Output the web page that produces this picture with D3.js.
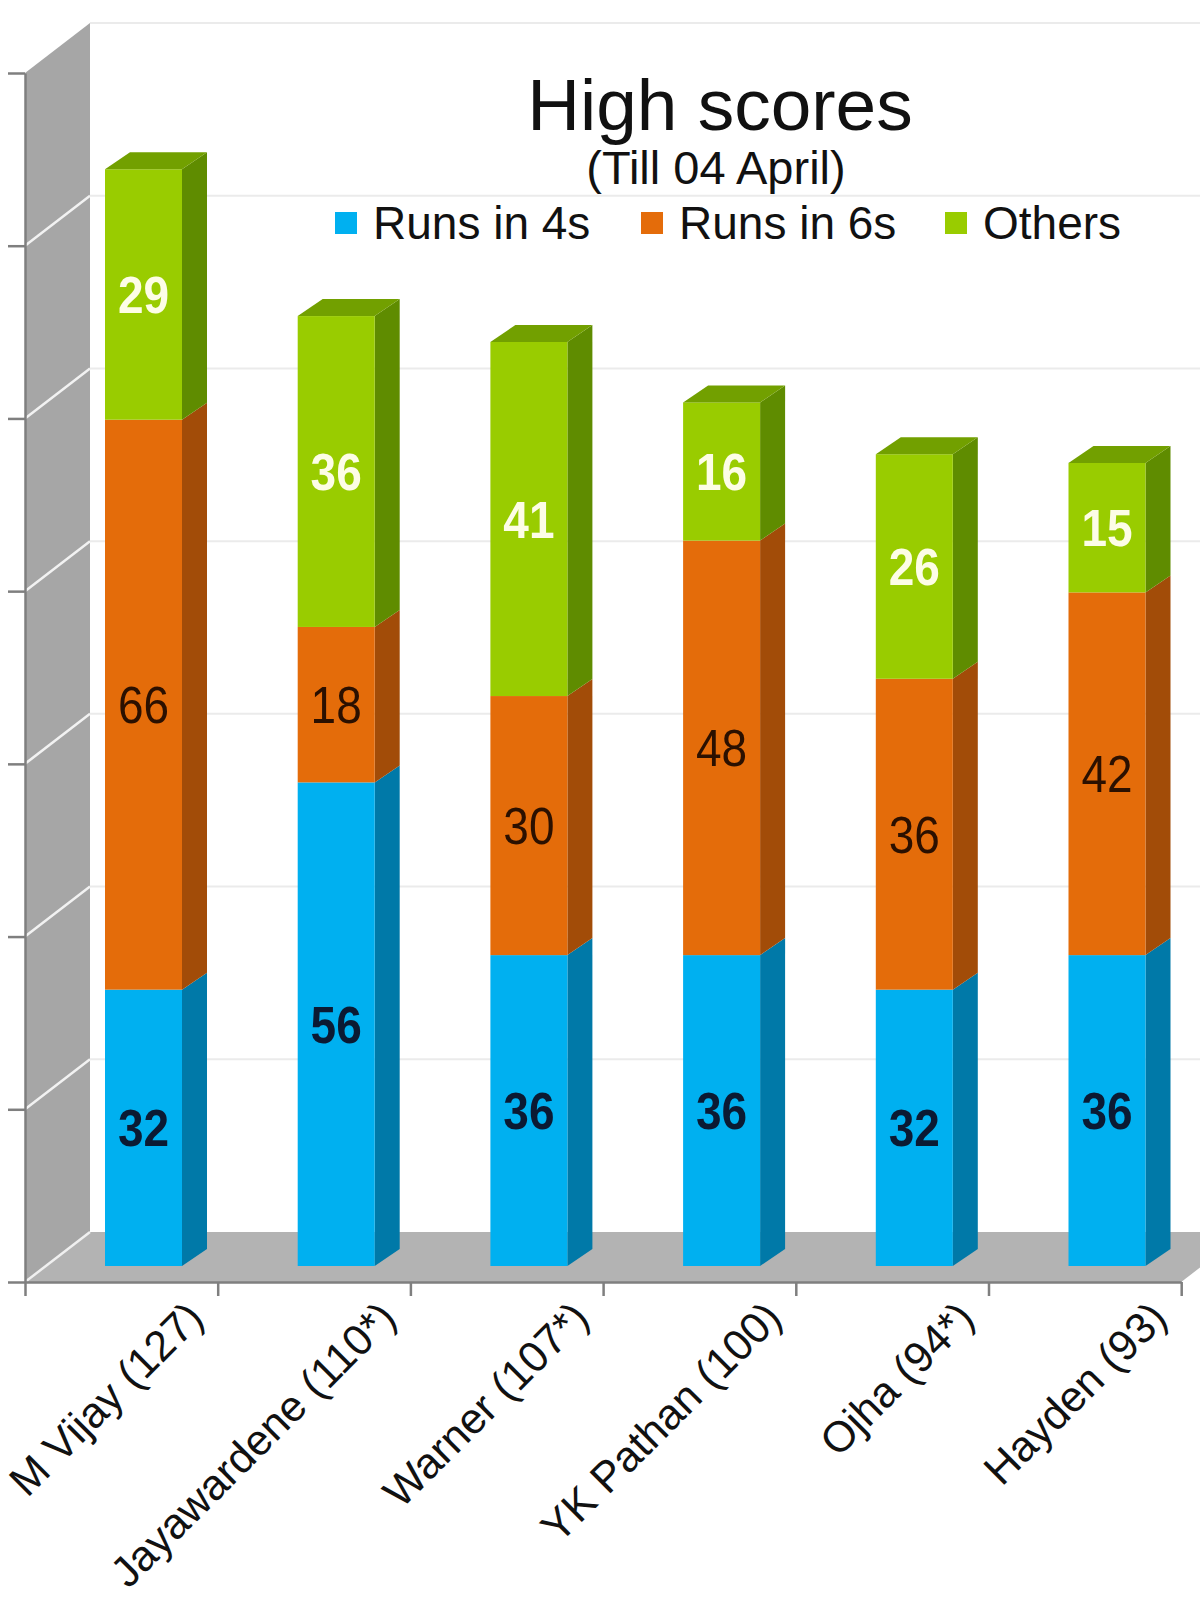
<!DOCTYPE html>
<html lang="en">
<head>
<meta charset="UTF-8">
<title>High scores</title>
<script src="https://d3js.org/d3.v7.min.js"></script>
<style>
  body { margin: 0; background: #fff; }
  text { font-family: "Liberation Sans", Arial, sans-serif; }
</style>
</head>
<body>
<script>
// data
const players = ["M Vijay (127)", "Jayawardene (110*)", "Warner (107*)", "YK Pathan (100)", "Ojha (94*)", "Hayden (93)"];
const runs4 = [32, 56, 36, 36, 32, 36];
const runs6 = [66, 18, 30, 48, 36, 42];
const others = [29, 36, 41, 16, 26, 15];
const seriesNames = ["Runs in 4s", "Runs in 6s", "Others"];
const yTicks = [0, 20, 40, 60, 80, 100, 120, 140];

const W = 1200, H = 1600;
const svg = d3.select("body").append("svg").attr("width", W).attr("height", H);

// colours per series: front, side, top, label
const colors = [
  { front: "#00b0f0", side: "#0079a8", top: "#0092c8", label: "#0b1a33", weight: "bold" },
  { front: "#e46c0a", side: "#a24c08", top: "#c25a08", label: "#2b1000", weight: "normal" },
  { front: "#99cc00", side: "#5f8c00", top: "#72a000", label: "#fdfde6", weight: "bold" }
];

// scales
const x0 = 25, band = 192.7;
const x = d3.scaleBand().domain(players).range([x0, x0 + band * players.length]);
const y = d3.scaleLinear().domain([0, 140]).range([1282, 73]);

// depth of the wall/floor and of the bars
const wall = { dx: 65, dy: -50 };
const barOff = { dx: 80, dy: -16 };   // front face of the bar relative to the front plane
const barDepth = { dx: 25, dy: -17 };
const barW = 77;

// back wall gridlines
svg.append("g").selectAll("line")
  .data(yTicks.slice(1))
  .enter().append("line")
  .attr("x1", x0 + wall.dx).attr("x2", W)
  .attr("y1", d => y(d) + wall.dy).attr("y2", d => y(d) + wall.dy)
  .attr("stroke", "#ebebeb").attr("stroke-width", 2);

// side wall
const wallPts = [[x0, y(0)], [x0, y(140)], [x0 + wall.dx, y(140) + wall.dy], [x0 + wall.dx, y(0) + wall.dy]];
svg.append("polygon").attr("points", wallPts.join(" ")).attr("fill", "#a6a6a6");
svg.append("g").selectAll("line")
  .data(yTicks.slice(1, -1))
  .enter().append("line")
  .attr("x1", x0).attr("y1", d => y(d))
  .attr("x2", x0 + wall.dx).attr("y2", d => y(d) + wall.dy)
  .attr("stroke", "#f2f2f2").attr("stroke-width", 2.5);

// floor
const xEnd = x0 + band * players.length;
const floorPts = [[x0, y(0)], [xEnd, y(0)], [xEnd + wall.dx, y(0) + wall.dy], [x0 + wall.dx, y(0) + wall.dy]];
svg.append("polygon").attr("points", floorPts.join(" ")).attr("fill", "#b3b3b3");
svg.append("line")
  .attr("x1", x0).attr("y1", y(0))
  .attr("x2", x0 + wall.dx).attr("y2", y(0) + wall.dy)
  .attr("stroke", "#f0f0f0").attr("stroke-width", 2.5);

// axes
svg.append("g")
  .attr("transform", `translate(${x0},0)`)
  .call(d3.axisLeft(y).tickValues(yTicks).tickFormat("").tickSize(17).tickSizeOuter(0))
  .call(g => g.selectAll("line,path").attr("stroke", "#7f7f7f").attr("stroke-width", 2.5));

const xTicks = d3.scaleLinear().domain([0, players.length]).range([x0, xEnd]);
svg.append("g")
  .attr("transform", `translate(0,${y(0)})`)
  .call(d3.axisBottom(xTicks).tickValues(d3.range(players.length + 1)).tickFormat("").tickSize(14).tickSizeOuter(0))
  .call(g => g.selectAll("line,path").attr("stroke", "#7f7f7f").attr("stroke-width", 2.5));

// stacked bars
const stack = players.map((p, i) => {
  const vals = [runs4[i], runs6[i], others[i]];
  let acc = 0;
  return vals.map((v, s) => {
    const seg = { player: p, s: s, v: v, v0: acc, v1: acc + v };
    acc += v;
    return seg;
  });
});

const barsG = svg.append("g");
stack.forEach(segs => {
  const g = barsG.append("g");
  const xl = x(segs[0].player) + barOff.dx;
  const xr = xl + barW;
  const fy = v => y(v) + barOff.dy;
  segs.forEach(d => {
    // side face
    g.append("polygon")
      .attr("points", [[xr, fy(d.v0)], [xr + barDepth.dx, fy(d.v0) + barDepth.dy],
                       [xr + barDepth.dx, fy(d.v1) + barDepth.dy], [xr, fy(d.v1)]].join(" "))
      .attr("fill", colors[d.s].side);
    // front face
    g.append("rect")
      .attr("x", xl).attr("y", fy(d.v1))
      .attr("width", barW).attr("height", fy(d.v0) - fy(d.v1))
      .attr("fill", colors[d.s].front);
  });
  // top face of the last segment
  const t = segs[segs.length - 1];
  g.append("polygon")
    .attr("points", [[xl, fy(t.v1)], [xr, fy(t.v1)], [xr + barDepth.dx, fy(t.v1) + barDepth.dy],
                     [xl + barDepth.dx, fy(t.v1) + barDepth.dy]].join(" "))
    .attr("fill", colors[t.s].top);
  // value labels
  segs.forEach(d => {
    const cy = (fy(d.v0) + fy(d.v1)) / 2;
    g.append("text")
      .attr("transform", `translate(${xl + barW / 2},${cy}) scale(1,1.12)`)
      .attr("text-anchor", "middle")
      .attr("dy", "0.36em")
      .attr("font-size", 46)
      .attr("font-weight", colors[d.s].weight)
      .attr("fill", colors[d.s].label)
      .text(d.v);
  });
});

// category labels
svg.append("g").selectAll("text")
  .data(players)
  .enter().append("text")
  .attr("transform", d => `translate(${x(d) + band - 12},${y(0) + 38}) rotate(-45)`)
  .attr("text-anchor", "end")
  .attr("font-size", 43)
  .attr("fill", "#111")
  .text(d => d);

// title
svg.append("text")
  .attr("x", 720).attr("y", 130)
  .attr("text-anchor", "middle")
  .attr("font-size", 73)
  .attr("fill", "#111")
  .text("High scores");
svg.append("text")
  .attr("x", 716).attr("y", 184)
  .attr("text-anchor", "middle")
  .attr("font-size", 47)
  .attr("fill", "#111")
  .text("(Till 04 April)");

// legend
const legendX = [335, 641, 945];
const legend = svg.append("g").selectAll("g")
  .data(seriesNames)
  .enter().append("g")
  .attr("transform", (d, i) => `translate(${legendX[i]},0)`);
legend.append("rect")
  .attr("x", 0).attr("y", 212).attr("width", 22).attr("height", 22)
  .attr("fill", (d, i) => colors[i].front);
legend.append("text")
  .attr("x", 38).attr("y", 239)
  .attr("font-size", 46)
  .attr("fill", "#111")
  .text(d => d);
</script>
</body>
</html>
